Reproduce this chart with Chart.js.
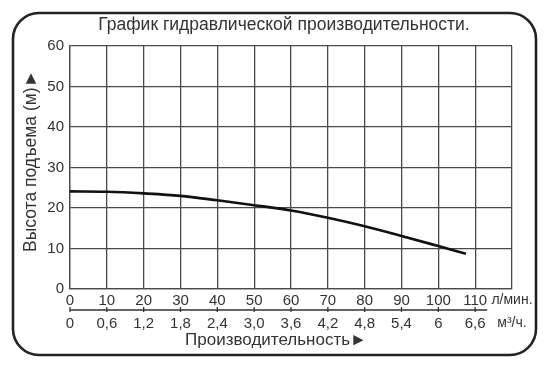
<!DOCTYPE html>
<html>
<head>
<meta charset="utf-8">
<script src="https://cdn.jsdelivr.net/npm/chart.js@4.4.1/dist/chart.umd.min.js"></script>
<style>
html,body{margin:0;padding:0;background:#fff;}
canvas{display:block;}
</style>
</head>
<body>
<canvas id="c" width="544" height="371"></canvas>
<script>
// ---- data ----
const chartTitle = 'График гидравлической производительности.';
const yTitle = 'Высота подъема (м)►';
const xTitle = 'Производительность►';
const flowLpm = [0, 10, 20, 30, 40, 50, 60, 70, 80, 90, 100, 107.5];
const headM   = [24.1, 24.0, 23.6, 23.0, 21.9, 20.7, 19.4, 17.6, 15.5, 13.1, 10.6, 8.7];
const xTickLabels  = ['0','10','20','30','40','50','60','70','80','90','100','110','л/мин.'];
const x2TickLabels = ['0','0,6','1,2','1,8','2,4','3,0','3,6','4,2','4,8','5,4','6','6,6','м³/ч.'];
const yTickLabels  = ['0','10','20','30','40','50','60'];

const FONT = "'Liberation Sans', Arial, sans-serif";
const TXT = '#333';
const GRID = '#4a4a4a';

const decor = {
  id: 'decor',
  beforeDraw(chart) {
    const ctx = chart.ctx;
    ctx.save();
    ctx.fillStyle = '#fff';
    ctx.fillRect(0, 0, chart.width, chart.height);
    // rounded frame
    const l = 13, t = 13, r = chart.width - 8, b = chart.height - 16, rad = 26;
    ctx.beginPath();
    ctx.moveTo(l + rad, t);
    ctx.lineTo(r - rad, t);
    ctx.arcTo(r, t, r, t + rad, rad);
    ctx.lineTo(r, b - rad);
    ctx.arcTo(r, b, r - rad, b, rad);
    ctx.lineTo(l + rad, b);
    ctx.arcTo(l, b, l, b - rad, rad);
    ctx.lineTo(l, t + rad);
    ctx.arcTo(l, t, l + rad, t, rad);
    ctx.closePath();
    ctx.lineWidth = 2.6;
    ctx.strokeStyle = '#222';
    ctx.stroke();
    ctx.restore();
  },
  afterDraw(chart) {
    const ctx = chart.ctx;
    const x2 = chart.scales.x2;
    ctx.save();
    // second axis line with tick marks
    const ly = x2.top;
    const xs = x2.getPixelForValue(0);
    const xe = x2.getPixelForValue(110) + 12;
    ctx.strokeStyle = '#333';
    ctx.lineWidth = 1.3;
    ctx.beginPath();
    ctx.moveTo(xs, ly); ctx.lineTo(xe, ly);
    x2.ticks.forEach((tk) => {
      if (tk.value <= 110) {
        const px = x2.getPixelForValue(tk.value);
        ctx.moveTo(px, ly - 3); ctx.lineTo(px, ly + 2);
      }
    });
    ctx.stroke();
    // titles
    ctx.fillStyle = TXT;
    ctx.textAlign = 'center';
    ctx.textBaseline = 'middle';
    ctx.font = '17.5px ' + FONT;
    ctx.fillText(chartTitle, 284, 25);
    ctx.font = '17px ' + FONT;
    ctx.fillText(xTitle, 276, 340);
    ctx.translate(31, 161);
    ctx.rotate(-Math.PI / 2);
    ctx.font = '17.5px ' + FONT;
    ctx.fillText(yTitle, 0, 0);
    ctx.restore();
  }
};

new Chart(document.getElementById('c'), {
  type: 'line',
  data: {
    datasets: [{
      data: flowLpm.map((x, i) => ({ x, y: headM[i] })),
      borderColor: '#111',
      borderWidth: 2.6,
      pointRadius: 0,
      fill: false,
      cubicInterpolationMode: 'monotone'
    }]
  },
  options: {
    responsive: false,
    devicePixelRatio: 1,
    animation: false,
    layout: { padding: { left: 0, right: 32, top: 46, bottom: 0 } },
    plugins: { legend: { display: false }, title: { display: false }, tooltip: { enabled: false } },
    scales: {
      x: {
        type: 'linear', position: 'bottom', weight: 0,
        min: 0, max: 120,
        afterFit: (s) => { s.height = 21; },
        grid: { color: GRID, lineWidth: 1.3, drawTicks: false },
        border: { color: GRID, width: 1.3 },
        ticks: {
          stepSize: 10, autoSkip: false, maxRotation: 0, padding: 3, color: TXT,
          font: (c) => ({ family: FONT, size: c.index === 12 ? 14 : 15 }),
          callback: (v, i) => xTickLabels[i]
        }
      },
      x2: {
        type: 'linear', position: 'bottom', weight: 1,
        min: 0, max: 120,
        afterFit: (s) => { s.height = 61; },
        grid: { display: false, drawOnChartArea: false, drawTicks: false },
        border: { display: false },
        ticks: {
          stepSize: 10, autoSkip: false, maxRotation: 0, padding: 5, color: TXT,
          font: (c) => ({ family: FONT, size: c.index === 12 ? 14 : 15 }),
          callback: (v, i) => x2TickLabels[i]
        }
      },
      y: {
        type: 'linear', position: 'left',
        min: 0, max: 60,
        afterFit: (s) => { s.width = 70; },
        grid: { color: GRID, lineWidth: 1.3, drawTicks: false },
        border: { color: GRID, width: 1.3 },
        ticks: {
          stepSize: 10, padding: 6, color: TXT,
          font: { family: FONT, size: 15 },
          callback: (v, i) => yTickLabels[i]
        }
      }
    }
  },
  plugins: [decor]
});
</script>
</body>
</html>
